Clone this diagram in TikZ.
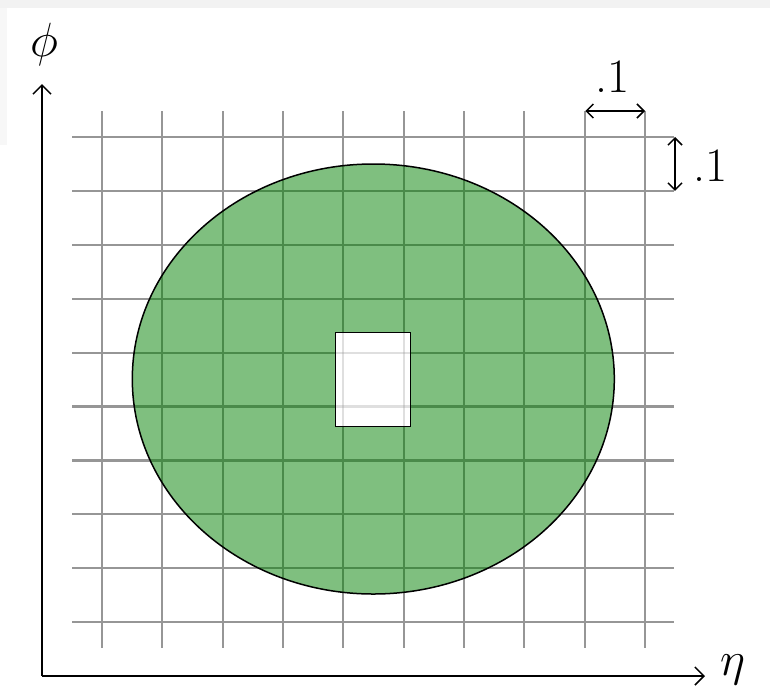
\documentclass[tikz,border=0pt]{standalone}
\usepackage{amsmath}
\usepackage{tikz}
\usetikzlibrary{arrows.meta,positioning}

\definecolor{gridgray}{RGB}{150,150,150}
\definecolor{regiongreen}{RGB}{0,128,0}
\definecolor{shotgray}{RGB}{242,242,242}

\begin{document}
\begin{tikzpicture}[
  x=1pt, y=-1pt,
  gridline/.style={draw=gridgray, line width=2.2pt},
  axis/.style={-{Straight Barb[length=9pt,width=18pt,line width=1.5pt]}, line width=1.8pt},
  dimarr/.style={{Straight Barb[length=7pt,width=14pt]}-{Straight Barb[length=7pt,width=14pt]}, line width=1.5pt},
  lbl/.style={font=\Huge, scale=1.93, inner sep=0pt}
]

% page and screenshot edges
\fill[white] (0,0) rectangle (770,691);
\fill[shotgray] (0,0) rectangle (770,8);
\fill[shotgray!60] (0,8) rectangle (7,145);
\useasboundingbox (0,0) rectangle (770,691);

% cell grid
\foreach \i in {0,...,9}
  \draw[gridline] ({102+60.33*\i},111) -- ({102+60.33*\i},648);
\foreach \j in {0,...,9}
  \draw[gridline] (72,{137+53.9*\j}) -- (674,{137+53.9*\j});

% region with hole
\draw[line width=1.5pt, fill=regiongreen, fill opacity=0.5] (373.3,379) ellipse [x radius=241, y radius=215];
\fill[white] (335.3,332.3) rectangle (410.7,426.7);
\begin{scope}
  \clip (335.3,332.3) rectangle (410.7,426.7);
  \foreach \i in {4,5}
    \draw[gridline, opacity=0.3] ({102+60.33*\i},111) -- ({102+60.33*\i},648);
  \foreach \j in {4,5}
    \draw[gridline, opacity=0.3] (72,{137+53.9*\j}) -- (674,{137+53.9*\j});
\end{scope}
\draw[line width=1.5pt] (335.3,332.3) rectangle (410.7,426.7);

% axes
\coordinate (origin) at (42,676);
\coordinate (phitip) at (42,84);
\coordinate (etatip) at (705,676);
\draw[axis] (origin) -- (phitip);
\draw[axis] (origin) -- (etatip);
\node[lbl] (phi) at (44,44) {$\phi$};
\node[lbl, anchor=west] (eta) at (720,670) {$\eta$};

% cell size
\coordinate (wl) at (585.3,111);
\coordinate (wr) at (645,111);
\coordinate (ht) at (675,137);
\coordinate (hb) at (675,190.9);
\draw[dimarr] (wl) -- (wr);
\draw[dimarr] (ht) -- (hb);
\node[lbl] (wlabel) at (613,77) {.1};
\node[lbl, anchor=west] (hlabel) at (693,166) {.1};

\end{tikzpicture}
\end{document}
